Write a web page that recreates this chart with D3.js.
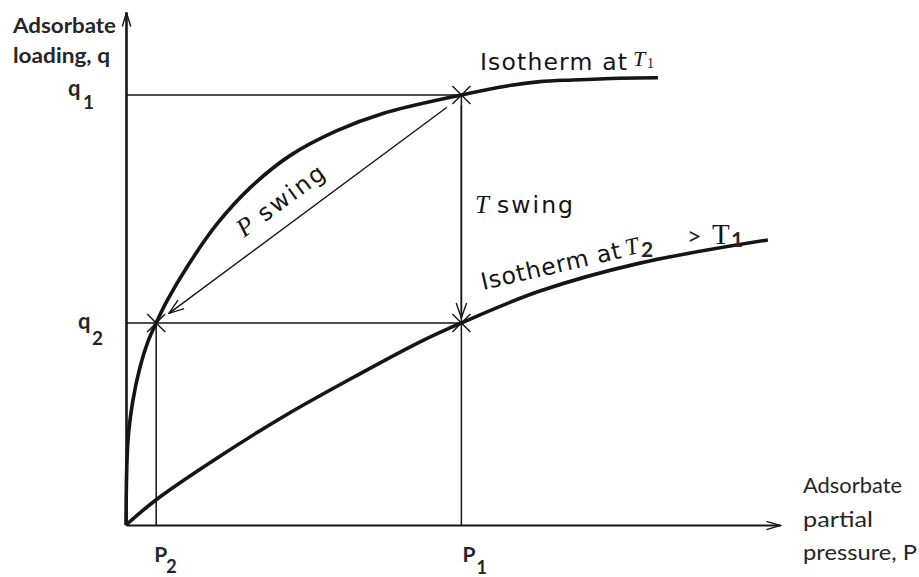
<!DOCTYPE html>
<html><head><meta charset="utf-8">
<script src="https://cdn.jsdelivr.net/npm/d3@7"></script>
<style>html,body{margin:0;padding:0;background:#fff;} svg{display:block}</style>
</head><body>
<svg id="c" width="919" height="577"></svg>
<script>
// ---- data (P in arbitrary units with P1 = 10, q with q1 = 1) ----
const isothermT1P = [0, 0.06, 0.209, 0.417, 0.656, 0.9, 1.222, 1.819, 2.713, 3.697, 4.890, 6.291, 7.663, 10, 11.36, 12.34, 13.33, 14.73, 15.86];
const isothermT1q = [0, 0.198, 0.291, 0.367, 0.427, 0.47, 0.521, 0.600, 0.700, 0.784, 0.859, 0.917, 0.957, 1.0, 1.021, 1.031, 1.035, 1.039, 1.040];
const isothermT2P = [0, 0.92, 2.80, 4.80, 6.77, 8.77, 10, 12.34, 15.32, 19.14];
const isothermT2q = [0, 0.060, 0.160, 0.257, 0.343, 0.426, 0.47, 0.544, 0.609, 0.663];
const pressureTicks = ["P2", "P1"];
const pressureValues = [0.9, 10];
const loadingTicks = ["q1", "q2"];
const loadingValues = [1.0, 0.47];
const statePointsP = [0.9, 10, 10];
const statePointsQ = [0.47, 1.0, 0.47];
const axisMax = { P: 19.5, q: 1.193 };

// ---- layout ----
const svg = d3.select("#c");
const x = d3.scaleLinear().domain([0, axisMax.P]).range([126, 780]);
const y = d3.scaleLinear().domain([0, axisMax.q]).range([525, 12]);
const ink = "#151515";
const labelInk = "#262626";

const defs = svg.append("defs");
function vMarker(id, len, half) {
  defs.append("marker").attr("id", id)
    .attr("markerUnits", "userSpaceOnUse")
    .attr("viewBox", `${-1} ${-half - 1} ${len + 2} ${2 * half + 2}`)
    .attr("markerWidth", len + 2).attr("markerHeight", 2 * half + 2)
    .attr("refX", len).attr("refY", 0).attr("orient", "auto")
    .append("path").attr("d", `M0,${-half}L${len},0L0,${half}`)
    .attr("fill", "none").attr("stroke", ink).attr("stroke-width", 1.4);
}
vMarker("axisArrow", 14, 4.2);
vMarker("swingArrow", 15, 5.2);

// axes (domain lines only)
const gx = svg.append("g").attr("transform", `translate(0,${y(0)})`)
  .call(d3.axisBottom(x).tickValues([]).tickSizeOuter(0));
gx.select(".domain").attr("stroke", ink).attr("stroke-width", 2.2).attr("marker-end", "url(#axisArrow)");
const gy = svg.append("g").attr("transform", `translate(${x(0)},0)`)
  .call(d3.axisLeft(y).tickValues([]).tickSizeOuter(0));
gy.select(".domain").attr("stroke", ink).attr("stroke-width", 2.6).attr("marker-end", "url(#axisArrow)");

// guide lines
const guides = svg.append("g").attr("stroke", ink).attr("stroke-width", 1.5);
loadingValues.forEach(q => {
  guides.append("line").attr("x1", x(0)).attr("x2", x(pressureValues[1])).attr("y1", y(q)).attr("y2", y(q));
});
guides.append("line").attr("x1", x(pressureValues[0])).attr("x2", x(pressureValues[0]))
  .attr("y1", y(loadingValues[1])).attr("y2", y(0));
guides.append("line").attr("x1", x(pressureValues[1])).attr("x2", x(pressureValues[1]))
  .attr("y1", y(loadingValues[0])).attr("y2", y(0));

// T swing arrow head (down the P1 line, ending just above the q2 point)
svg.append("line").attr("x1", x(pressureValues[1])).attr("x2", x(pressureValues[1]))
  .attr("y1", y(loadingValues[0]) + 10).attr("y2", y(loadingValues[1]) - 5)
  .attr("stroke", ink).attr("stroke-width", 1.5).attr("marker-end", "url(#swingArrow)");

// P swing arrow: from (P1,q1) to (P2,q2), inset at both ends
{
  const ax = x(pressureValues[1]), ay = y(loadingValues[0]);
  const bx = x(pressureValues[0]), by = y(loadingValues[1]);
  const L = Math.hypot(bx - ax, by - ay), ux = (bx - ax) / L, uy = (by - ay) / L;
  svg.append("line")
    .attr("x1", ax + ux * 18).attr("y1", ay + uy * 18 + 1.5)
    .attr("x2", bx - ux * 16).attr("y2", by - uy * 16)
    .attr("stroke", ink).attr("stroke-width", 1.4).attr("marker-end", "url(#swingArrow)");
}

// isotherms
const line = d3.line().x(d => x(d[0])).y(d => y(d[1])).curve(d3.curveCatmullRom.alpha(0.5));
svg.append("path").datum(isothermT1P.map((p, i) => [p, isothermT1q[i]]))
  .attr("d", line).attr("fill", "none").attr("stroke", ink).attr("stroke-width", 3.6).attr("stroke-linecap", "butt");
svg.append("path").datum(isothermT2P.map((p, i) => [p, isothermT2q[i]]))
  .attr("d", line).attr("fill", "none").attr("stroke", ink).attr("stroke-width", 3.6).attr("stroke-linecap", "butt");

// state point crosses
statePointsP.forEach((p, i) => {
  const cx = x(p), cy = y(statePointsQ[i]), h = 9;
  svg.append("path").attr("d", `M${cx - h},${cy - h}L${cx + h},${cy + h}M${cx - h},${cy + h}L${cx + h},${cy - h}`)
    .attr("stroke", ink).attr("stroke-width", 1.4).attr("fill", "none");
});

// ---- text ----
const calibri = "Lato, 'Open Sans', sans-serif";
const helv = "'DejaVu Sans', 'Liberation Sans', sans-serif";
const serif = "'Liberation Serif', 'DejaVu Serif', serif";

function txt(g, s, px, py, opts) {
  const t = g.append("text").attr("x", px).attr("y", py).text(s)
    .attr("font-family", opts.family).attr("font-size", opts.size)
    .attr("fill", opts.fill || labelInk);
  if (opts.weight) t.attr("font-weight", opts.weight);
  if (opts.italic) t.attr("font-style", "italic");
  if (opts.len) t.attr("textLength", opts.len).attr("lengthAdjust", opts.adjust || "spacingAndGlyphs");
  return t;
}

// y axis title
txt(svg, "Adsorbate", 13, 33, { family: calibri, size: 21, weight: 700, len: 103 });
txt(svg, "loading, q", 13, 63, { family: calibri, size: 21, weight: 700, len: 97 });
// x axis title
txt(svg, "Adsorbate", 803, 493, { family: calibri, size: 22, len: 99 });
txt(svg, "partial", 803, 527, { family: calibri, size: 22, len: 70 });
txt(svg, "pressure, P", 803, 560, { family: calibri, size: 22, len: 114 });

// tick labels with subscripts
const qLabelLayout = [{ x: 68, dy: 1, sx: 83, sdy: 17 }, { x: 78, dy: 6, sx: 92, sdy: 20 }];
loadingTicks.forEach((lab, i) => {
  const L = qLabelLayout[i], base = y(loadingValues[i]) + L.dy;
  txt(svg, lab[0], L.x, base, { family: calibri, size: 22, weight: 700 });
  txt(svg, lab[1], L.sx, base + L.sdy - 4, { family: calibri, size: 19, weight: 700 });
});
const pLabelLayout = [{ dx: -2, sdx: 12, sy: 573 }, { dx: 1, sdx: 14, sy: 574 }];
pressureTicks.forEach((lab, i) => {
  const L = pLabelLayout[i], px = x(pressureValues[i]) + L.dx;
  txt(svg, lab[0], px, 562, { family: calibri, size: 21, weight: 700 });
  txt(svg, lab[1], px + L.sdx, L.sy, { family: calibri, size: 18, weight: 700 });
});

// Isotherm at T1
txt(svg, "Isotherm at", 480, 70, { family: helv, size: 23.5, fill: ink, len: 147, adjust: "spacing" });
txt(svg, "T", 633, 66, { family: serif, size: 22, italic: true, fill: ink });
txt(svg, "1", 647, 68, { family: serif, size: 14, fill: ink });

// T swing
txt(svg, "T", 475, 213, { family: serif, size: 25, italic: true, fill: ink });
txt(svg, "swing", 497, 213, { family: helv, size: 23.5, fill: ink, len: 76, adjust: "spacing" });

// P swing (rotated along the arrow)
{
  const g = svg.append("g").attr("transform", "translate(244,238) rotate(-36.6)");
  txt(g, "P", 0, 0, { family: serif, size: 26, italic: true, fill: ink });
  txt(g, "swing", 26, 0, { family: helv, size: 23.5, fill: ink, len: 77, adjust: "spacing" });
}

// Isotherm at T2 > T1 (rotated along the curve)
{
  const g = svg.append("g").attr("transform", "translate(483,290) rotate(-13)");
  txt(g, "Isotherm at", 0, 0, { family: helv, size: 23.5, fill: ink, len: 143, adjust: "spacing" });
  txt(g, "T", 148, -1, { family: serif, size: 24, italic: true, fill: ink });
}
txt(svg, "2", 641, 257, { family: calibri, size: 21, weight: 700 });
txt(svg, ">", 687, 245, { family: calibri, size: 25 });
txt(svg, "T", 712, 244, { family: serif, size: 29, fill: ink });
txt(svg, "1", 731, 247, { family: calibri, size: 21, weight: 700 });
</script>
</body></html>
